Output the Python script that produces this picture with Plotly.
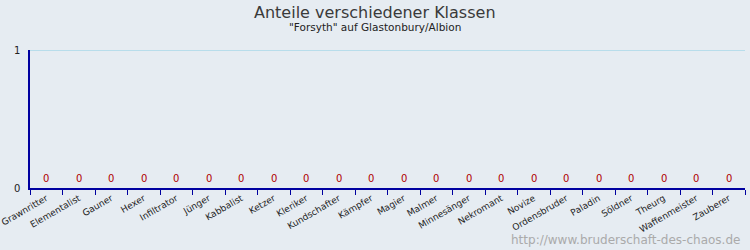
import plotly.graph_objects as go

categories = ["Grawnritter", "Elementalist", "Gauner", "Hexer", "Infiltrator", "Jünger",
              "Kabbalist", "Ketzer", "Kleriker", "Kundschafter", "Kämpfer", "Magier",
              "Malmer", "Minnesänger", "Nekromant", "Novize", "Ordensbruder", "Paladin",
              "Söldner", "Theurg", "Waffenmeister", "Zauberer"]
values = [0] * 22
title = "Anteile verschiedener Klassen"
subtitle = "\"Forsyth\" auf Glastonbury/Albion"
watermark = "http://www.bruderschaft-des-chaos.de"

BG = "#e6ecf2"
AXIS = "#0000a0"
W, H = 750, 250
ML, MR, MT, MB = 30, 5, 50, 62
PW = W - ML - MR
cx = (W / 2 - ML) / PW  # page centre in paper coords

fig = go.Figure()
fig.add_trace(go.Bar(x=categories, y=values, marker_color="#4060c0", showlegend=False,
                     hoverinfo="skip"))

annots = [
    dict(text=title, x=cx, y=1, xref="paper", yref="paper", xanchor="center", yanchor="middle",
         yshift=MT - 12, showarrow=False,
         font=dict(family="DejaVu Sans", size=16, color="#3a3a3a")),
    dict(text=subtitle, x=cx, y=1, xref="paper", yref="paper", xanchor="center", yanchor="middle",
         yshift=MT - 27, showarrow=False,
         font=dict(family="DejaVu Sans", size=10.5, color="#222222")),
    dict(text=watermark, x=1, y=0, xref="paper", yref="paper", xanchor="right", yanchor="middle",
         yshift=-(240 - (H - MB)), xshift=-3, showarrow=False,
         font=dict(family="DejaVu Sans", size=12, color="#aaaaaa")),
]
for c, v in zip(categories, values):
    annots.append(dict(text=str(v), x=c, y=v, xref="x", yref="y", xanchor="center",
                       yanchor="middle", yshift=10, showarrow=False,
                       font=dict(family="DejaVu Sans", size=10, color="#b00000")))

# light-blue gridline at the top value (drawn as a shape so it is not clipped at the edge)
shapes = [dict(type="line", xref="paper", x0=0, x1=1, yref="y", y0=1, y1=1,
               line=dict(color="#a8d8e8", width=1.5), layer="below")]

fig.update_layout(
    width=W, height=H,
    margin=dict(l=ML, r=MR, t=MT, b=MB, autoexpand=False),
    paper_bgcolor=BG, plot_bgcolor=BG,
    font=dict(family="DejaVu Sans", size=9, color="#222222"),
    bargap=0.3,
    annotations=annots,
    shapes=shapes,
)

fig.update_xaxes(type="category", range=[-0.5, len(categories) - 0.5], tickangle=-30,
                 tickson="boundaries", ticks="outside", automargin=False,
                 ticklen=5, tickcolor=AXIS, showline=True, linecolor=AXIS, linewidth=1.5,
                 showgrid=False, tickfont=dict(family="DejaVu Sans", size=9, color="#222222"),
                 fixedrange=True)
fig.update_yaxes(range=[0, 1], tickvals=[0, 1], ticktext=["0", "1"], ticks="inside",
                 ticklen=5, tickcolor=AXIS, showline=True, linecolor=AXIS, linewidth=1.5,
                 showgrid=False, zeroline=False, automargin=False,
                 tickfont=dict(family="DejaVu Sans", size=10, color="#222222"),
                 ticklabelstandoff=6)

fig.write_html("out.html")
